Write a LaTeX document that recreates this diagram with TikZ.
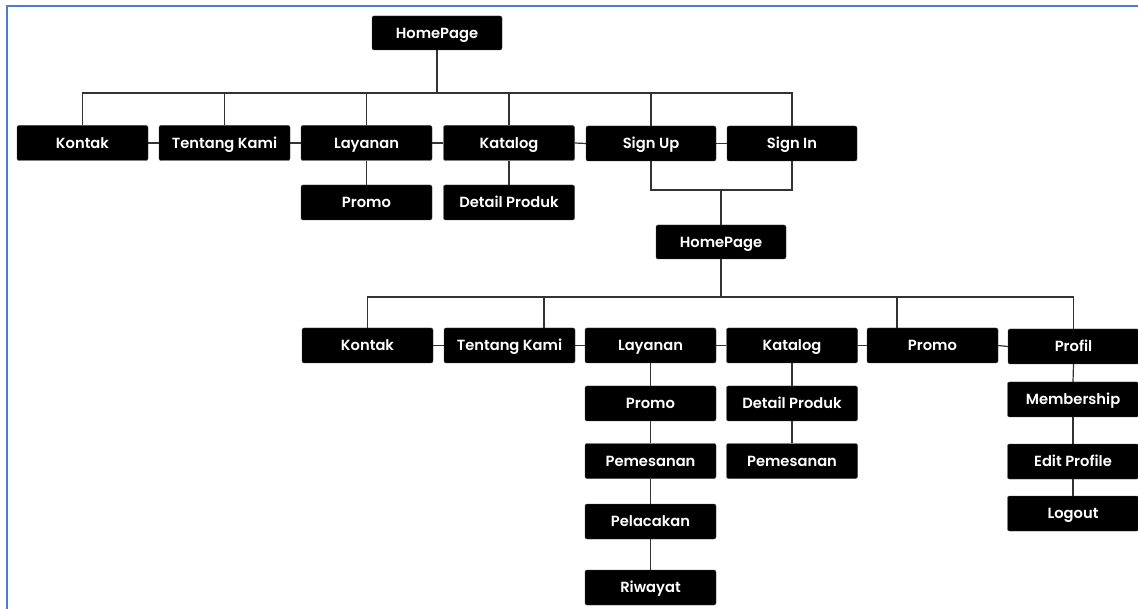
\documentclass[tikz,border=0pt]{standalone}
\usepackage{fontspec}
\setmainfont{Poppins}[UprightFont={* SemiBold}]
\begin{document}
\begin{tikzpicture}[x=1pt,y=-1pt,
  box/.style={rectangle, fill=black, draw=black!75, rounded corners=2pt, text=white,
    minimum width=131pt, minimum height=35pt, inner sep=0pt,
    text height=10.3pt, text depth=0pt,
    font=\fontsize{14.7}{17}\selectfont},
  link/.style={draw=black!80, line width=1.2pt}]
\definecolor{framecol}{RGB}{78,124,200}
\useasboundingbox (0,0) rectangle (1138,609);
\draw[framecol, line width=2pt] (7,609) -- (7,6) -- (1138,6);

% top level
\node[box, minimum width=130pt, minimum height=34pt] (h1) at (437,33) {HomePage};
\node[box] (k1) at (82.5,143) {Kontak};
\node[box] (t1) at (224.5,143) {Tentang Kami};
\node[box] (l1) at (366.5,143) {Layanan};
\node[box] (c1) at (509,143) {Katalog};
\node[box, minimum width=130pt] (su) at (651,143.5) {Sign Up};
\node[box, minimum width=130pt] (si) at (792,143.5) {Sign In};
\node[box] (p1) at (366.5,202.5) {Promo};
\node[box] (d1) at (509,202.5) {Detail Produk};

\coordinate (bus1) at (437,93);
\draw[link] (h1.south) -- (bus1);
\foreach \n in {k1,t1,l1,c1,su,si} \draw[link] (\n.north) |- (bus1);
\draw[link] (k1.east) -- (t1.west);
\draw[link] (t1.east) -- (l1.west);
\draw[link] (l1.east) -- (c1.west);
\draw[link] (c1.east) -- (su.west);
\draw[link] (su.east) -- (si.west);
\draw[link] (l1.south) -- (p1.north);
\draw[link] (c1.south) -- (d1.north);

% second homepage
\node[box, minimum width=130pt, minimum height=34pt] (h2) at (721,242) {HomePage};
\coordinate (j) at (721,190);
\draw[link] (su.south) |- (j);
\draw[link] (si.south) |- (j);
\draw[link] (j) -- (h2.north);

% second level
\node[box] (k2) at (367.5,345.5) {Kontak};
\node[box] (t2) at (509.5,345.5) {Tentang Kami};
\node[box] (l2) at (650.5,345.5) {Layanan};
\node[box] (c2) at (792,345.5) {Katalog};
\node[box] (pr2) at (932.5,345.5) {Promo};
\node[box] (pf) at (1073.5,346.5) {Profil};

\coordinate (bus2) at (721,297);
\draw[link] (h2.south) -- (bus2);
\draw[link] (k2.north) |- (bus2);
\draw[link] ([xshift=34.5pt]t2.north) |- (bus2);
\draw[link] ([xshift=-35.5pt]pr2.north) |- (bus2);
\draw[link] (pf.north) |- (bus2);
\draw[link] (k2.east) -- (t2.west);
\draw[link] (t2.east) -- (l2.west);
\draw[link] (l2.east) -- (c2.west);
\draw[link] (c2.east) -- (pr2.west);
\draw[link] (pr2.east) -- (pf.west);

% Layanan column
\node[box] (p3) at (650.5,403.5) {Promo};
\node[box] (pem1) at (650.5,461) {Pemesanan};
\node[box] (pel) at (650.5,521.5) {Pelacakan};
\node[box] (riw) at (650.5,587.5) {Riwayat};
\draw[link] (l2.south) -- (p3.north);
\draw[link] (p3.south) -- (pem1.north);
\draw[link] (pem1.south) -- (pel.north);
\draw[link] (pel.south) -- (riw.north);

% Katalog column
\node[box] (d2) at (792,403.5) {Detail Produk};
\node[box] (pem2) at (792,461) {Pemesanan};
\draw[link] (c2.south) -- (d2.north);
\draw[link] (d2.south) -- (pem2.north);

% Profil column
\node[box] (mem) at (1073,399.5) {Membership};
\node[box] (edit) at (1073,461.5) {Edit Profile};
\node[box] (lo) at (1073,513.5) {Logout};
\draw[link] (pf.south) -- (mem.north);
\draw[link] (mem.south) -- (edit.north);
\draw[link] (edit.south) -- (lo.north);
\end{tikzpicture}
\end{document}
